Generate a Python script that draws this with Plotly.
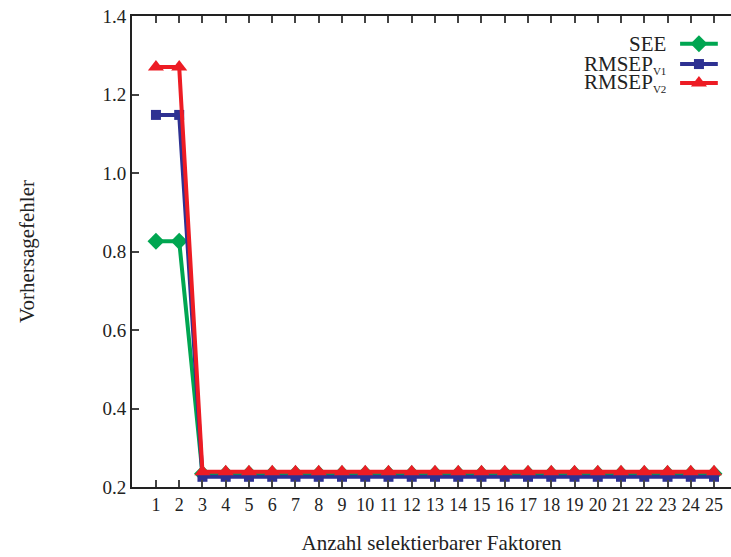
import plotly.graph_objects as go

# Number of selectable factors and the prediction errors per model
factors = list(range(1, 26))
see = [0.826, 0.826] + [0.234] * 23
rmsep_v1 = [1.148, 1.148] + [0.226] * 23
rmsep_v2 = [1.270, 1.270] + [0.239] * 23

sub = "<sub><span style='font-size:11px'>{}</span></sub>"
series = [
    ("SEE", see, "#00a651", "diamond", 13),
    ("RMSEP" + sub.format("V1"), rmsep_v1, "#2e3192", "square", 10),
    ("RMSEP" + sub.format("V2"), rmsep_v2, "#ed1c24", "triangle-up", 14),
]

font_family = "Liberation Serif"

fig = go.Figure()
for name, vals, color, symbol, size in series:
    fig.add_trace(go.Scatter(
        x=factors, y=vals, mode="lines+markers", name=name,
        line=dict(color=color, width=4),
        marker=dict(symbol=symbol, size=size, color=color),
        showlegend=False,
    ))

# Key in the top-right corner: right-aligned label with a sample line after it,
# drawn on an overlay axis pair that spans the plot area as [0, 1] x [0, 1]
legend_rows = [0.941, 0.898, 0.858]
for (name, vals, color, symbol, size), yk in zip(series, legend_rows):
    fig.add_trace(go.Scatter(
        x=[0.915, 0.978], y=[yk, yk], mode="lines", xaxis="x2", yaxis="y2",
        line=dict(color=color, width=4), showlegend=False, hoverinfo="skip",
    ))
    fig.add_trace(go.Scatter(
        x=[0.9465], y=[yk], mode="markers", xaxis="x2", yaxis="y2",
        marker=dict(symbol=symbol, size=size, color=color),
        showlegend=False, hoverinfo="skip",
    ))
    fig.add_annotation(
        xref="x2", yref="y2", x=0.895, y=yk, xanchor="right", yanchor="middle",
        text=name, showarrow=False, font=dict(family=font_family, size=21, color="#222"),
    )

fig.update_layout(
    width=731, height=557,
    margin=dict(l=132, r=0, t=16, b=70),
    paper_bgcolor="white", plot_bgcolor="white",
    font=dict(family=font_family, size=18, color="#222"),
    xaxis=dict(
        range=[-0.03, 25.73], tickmode="array", tickvals=factors,
        ticktext=[str(f) for f in factors],
        ticks="inside", ticklen=7, tickwidth=1.5, tickcolor="#444",
        showline=True, linecolor="#222", linewidth=2, mirror="ticks",
        showgrid=False, zeroline=False,
        tickfont=dict(size=18),
        title=dict(text="Anzahl selektierbarer Faktoren", font=dict(size=21), standoff=22),
    ),
    yaxis=dict(
        range=[0.2, 1.4], tickmode="array",
        tickvals=[0.2, 0.4, 0.6, 0.8, 1.0, 1.2, 1.4],
        ticktext=["0.2", "0.4", "0.6", "0.8", "1.0", "1.2", "1.4"],
        ticks="inside", ticklen=7, tickwidth=1.5, tickcolor="#444",
        showline=True, linecolor="#222", linewidth=2,
        showgrid=False, zeroline=False,
        tickfont=dict(size=19),
        title=dict(text="Vorhersagefehler", font=dict(size=21), standoff=62),
    ),
    xaxis2=dict(overlaying="x", range=[0, 1], visible=False, fixedrange=True, anchor="y2"),
    yaxis2=dict(overlaying="y", range=[0, 1], visible=False, fixedrange=True, anchor="x2"),
)

fig.write_html("out.html")
